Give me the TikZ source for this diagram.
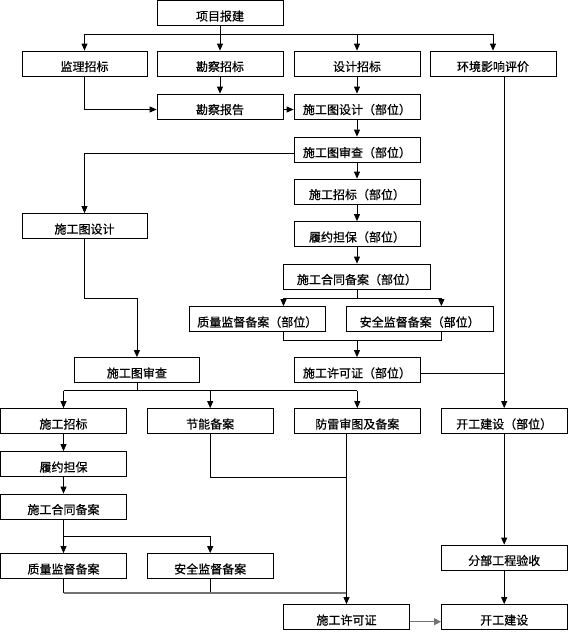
\documentclass[tikz,border=0pt]{standalone}
\usepackage{fontspec}
\newfontfamily\cjk[FakeBold=0.6]{Noto Sans CJK SC}
\usetikzlibrary{arrows.meta}
\begin{document}
\begin{tikzpicture}[x=1pt,y=-1pt,
  fbox/.style={draw=black,line width=0.8pt,minimum height=25pt,inner sep=0pt,text height=16pt,text depth=0.8pt,font=\cjk\fontsize{12}{14}\selectfont,fill=white},
  ln/.style={draw=black,line width=0.8pt},
  arr/.style={ln,-{Triangle[length=7pt,width=6pt]}},
  gln/.style={draw=black!55,line width=1.4pt},
  garr/.style={gln,-{Triangle[length=7pt,width=7pt]}}]
\useasboundingbox (0,0) rectangle (569,632);
\fill[white] (0,0) rectangle (569,632);
% nodes
\node[fbox,minimum width=126pt] (xm) at (220,13) {项目报建};
\node[fbox,minimum width=125pt] (jl) at (84.5,63.5) {监理招标};
\node[fbox,minimum width=126pt] (kczb) at (220,63.5) {勘察招标};
\node[fbox,minimum width=126pt] (sjzb) at (357,63.5) {设计招标};
\node[fbox,minimum width=126pt] (hj) at (493,63.5) {环境影响评价};
\node[fbox,minimum width=126pt] (kcbg) at (220,106.5) {勘察报告};
\node[fbox,minimum width=126pt] (sgtsja) at (357,106.5) {施工图设计（部位）};
\node[fbox,minimum width=126pt] (sgtsca) at (357,149.5) {施工图审查（部位）};
\node[fbox,minimum width=126pt] (sgzba) at (357,191.5) {施工招标（部位）};
\node[fbox,minimum width=126pt] (lydba) at (357,234) {履约担保（部位）};
\node[fbox,minimum width=147pt] (hta) at (357,276.5) {施工合同备案（部位）};
\node[fbox,minimum width=135.5pt] (zla) at (257.3,319) {质量监督备案（部位）};
\node[fbox,minimum width=147pt] (aqa) at (419.7,319) {安全监督备案（部位）};
\node[fbox,minimum width=126pt] (xka) at (357,370) {施工许可证（部位）};
\node[fbox,minimum width=125pt] (sgtsjb) at (84.5,226) {施工图设计};
\node[fbox,minimum width=125pt] (sgtscb) at (136.9,370) {施工图审查};
\node[fbox,minimum width=125.6pt] (sgzbb) at (63.5,421) {施工招标};
\node[fbox,minimum width=125.6pt] (jn) at (210.2,421) {节能备案};
\node[fbox,minimum width=126pt] (fl) at (357.3,421) {防雷审图及备案};
\node[fbox,minimum width=125.6pt] (kga) at (504.2,421) {开工建设（部位）};
\node[fbox,minimum width=125.6pt] (lydbb) at (63.5,464) {履约担保};
\node[fbox,minimum width=125.6pt] (htb) at (63.5,506.5) {施工合同备案};
\node[fbox,minimum width=125.6pt] (zlb) at (63.5,566) {质量监督备案};
\node[fbox,minimum width=125.6pt] (aqb) at (210.2,566) {安全监督备案};
\node[fbox,minimum width=125.6pt] (fb) at (504.2,557.5) {分部工程验收};
\node[fbox,minimum width=126pt] (xkb) at (346.5,617) {施工许可证};
\node[fbox,minimum width=125.6pt] (kgb) at (504.2,617) {开工建设};
% coordinates
\coordinate (b1) at (220,34);
\coordinate (b2) at (357,298);
\coordinate (za) at (283.5,298);
\coordinate (zb) at (441.4,298);
\coordinate (b3) at (357,340);
\coordinate (b4) at (84.5,298);
\coordinate (b5) at (136.9,390.7);
\coordinate (b6) at (63.5,536.3);
\coordinate (b7) at (346.5,593);
\coordinate (b8) at (346.5,477.3);
% top fan-out
\draw[ln] (xm.south) -- (b1);
\draw[ln] (jl.north |- b1) -- (hj.north |- b1);
\draw[arr] (jl.north |- b1) -- (jl.north);
\draw[arr] (kczb.north |- b1) -- (kczb.north);
\draw[arr] (sjzb.north |- b1) -- (sjzb.north);
\draw[arr] (hj.north |- b1) -- (hj.north);
% row 2 to row 3
\draw[arr] (jl.south) |- ([yshift=-3pt]kcbg.west);
\draw[arr] (kczb.south) -- (kcbg.north);
\draw[arr] (sjzb.south) -- (sgtsja.north);
\draw[arr] ([yshift=-3pt]kcbg.east) -- ([yshift=-3pt]sgtsja.west);
% right column
\draw[arr] (sgtsja.south) -- (sgtsca.north);
\draw[arr] (sgtsca.south) -- (sgzba.north);
\draw[arr] (sgzba.south) -- (lydba.north);
\draw[arr] (lydba.south) -- (hta.north);
\draw[ln] (hta.south) -- (b2);
\draw[ln] (za) -- (zb);
\draw[arr] (za) -- (za |- zla.north);
\draw[arr] (zb) -- (zb |- aqa.north);
\draw[ln] (za |- zla.south) -- (za |- b3) -- (zb |- b3) -- (zb |- aqa.south);
\draw[arr] (b3) -- (xka.north);
\draw[ln] ([yshift=-3.7pt]xka.east) -- ([yshift=-3.7pt]xka.east -| kga.north);
% environment line
\draw[arr] (kga.north |- hj.south) -- (kga.north);
\draw[arr] (kga.south) -- (fb.north);
\draw[arr] (fb.south) -- (kgb.north);
% left branch
\draw[arr] ([yshift=-3.5pt]sgtsca.west) -| (sgtsjb.north);
\draw[arr] (sgtsjb.south) -- (b4) -| (sgtscb.north);
\draw[ln] (sgtscb.south) -- (b5);
\draw[ln] (sgzbb.north |- b5) -- (fl.north |- b5);
\draw[arr] (sgzbb.north |- b5) -- (sgzbb.north);
\draw[arr] (jn.north |- b5) -- (jn.north);
\draw[arr] (fl.north |- b5) -- (fl.north);
\draw[arr] (sgzbb.south) -- (lydbb.north);
\draw[arr] (lydbb.south) -- (htb.north);
\draw[ln] (htb.south) -- (b6);
\draw[ln] (b6) -- (aqb.north |- b6);
\draw[arr] (aqb.north |- b6) -- (aqb.north);
\draw[arr] (b6) -- (zlb.north);
\draw[ln] (zlb.south) -- (zlb.south |- b7);
\draw[ln] (aqb.south) -- (aqb.south |- b7);
\draw[gln] (zlb.south |- b7) -- (b7);
\draw[ln] (jn.south) -- (jn.south |- b8) -- (b8);
\draw[arr] (xkb.north |- fl.south) -- (xkb.north);
\draw[garr] ([yshift=-4.7pt]xkb.east) -- ([yshift=-4.7pt]kgb.west);
\end{tikzpicture}
\end{document}
